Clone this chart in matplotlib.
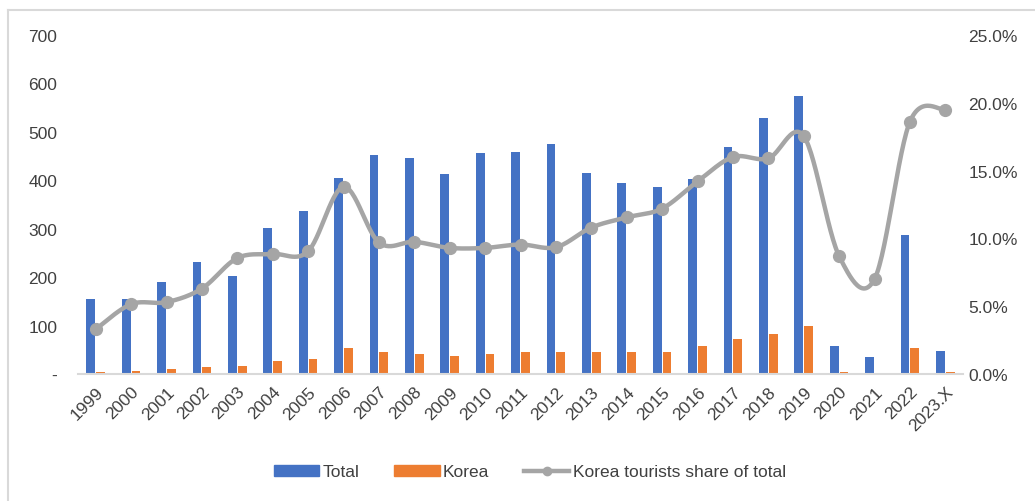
import numpy as np
import matplotlib.pyplot as plt
from matplotlib.lines import Line2D
from matplotlib.patches import Patch

plt.rcParams['font.family'] = ['Liberation Sans', 'DejaVu Sans']

years = ['1999', '2000', '2001', '2002', '2003', '2004', '2005', '2006', '2007',
         '2008', '2009', '2010', '2011', '2012', '2013', '2014', '2015', '2016',
         '2017', '2018', '2019', '2020', '2021', '2022', '2023.X']
total = [155, 155, 190, 231, 203, 301, 337, 404, 452, 445, 412, 456, 459,
         475, 416, 394, 386, 403, 468, 528, 575, 58, 35, 286, 47]
korea = [5, 7, 10, 14, 17, 26, 31, 54, 45, 42, 37, 41, 45, 45, 45, 45, 46,
         57, 73, 82, 100, 4, 0.5, 53, 5]
share = [3.3, 5.15, 5.3, 6.3, 8.55, 8.85, 9.05, 13.8, 9.7, 9.75, 9.3, 9.3, 9.55,
         9.35, 10.8, 11.55, 12.2, 14.2, 16.0, 15.9, 17.55, 8.7, 7.0, 18.6, 19.5]

blue = '#4472C4'
orange = '#ED7D31'
grey = '#A5A5A5'

fig = plt.figure(figsize=(10.35, 5.02), dpi=100)
ax = fig.add_axes([78/1035, 1-375/502, (963-78)/1035, 339/502])
ax2 = ax.twinx()

x = np.arange(len(years))
ax.bar(x - 0.14, total, width=0.25, color=blue, zorder=2)
ax.bar(x + 0.14, korea, width=0.25, color=orange, zorder=2)

# smoothed line like excel (bezier through the points)
s = np.array(share) / 100
xs, ys = [], []
n = len(s)
for i in range(n - 1):
    p0 = np.array([x[max(i-1, 0)], s[max(i-1, 0)]])
    p1 = np.array([x[i], s[i]])
    p2 = np.array([x[i+1], s[i+1]])
    p3 = np.array([x[min(i+2, n-1)], s[min(i+2, n-1)]])
    c1 = p1 + (p2 - p0) / 6
    c2 = p2 - (p3 - p1) / 6
    t = np.linspace(0, 1, 30)[:, None]
    pts = (1-t)**3*p1 + 3*(1-t)**2*t*c1 + 3*(1-t)*t**2*c2 + t**3*p2
    xs.extend(pts[:, 0]); ys.extend(pts[:, 1])
ax2.plot(xs, ys, color=grey, lw=3.2, solid_capstyle='round', zorder=3)
ax2.plot(x, s, 'o', color=grey, ms=8.5, zorder=4)

ax.set_xlim(-0.5, n - 0.5)
ax.set_ylim(0, 700)
ax2.set_ylim(0, 0.25)
ax.set_yticks(range(0, 701, 100))
ax.set_yticklabels(['-'] + [str(v) for v in range(100, 701, 100)])
ax2.set_yticks(np.arange(0, 0.26, 0.05))
ax2.set_yticklabels(['%.1f%%' % (v*100) for v in np.arange(0, 0.26, 0.05)])

ax.set_xticks(x)
ax.set_xticklabels(years, rotation=45, ha='right', rotation_mode='anchor')

for a in (ax, ax2):
    for sp in a.spines.values():
        sp.set_visible(False)
    a.tick_params(length=0, labelsize=12.5, colors='#404040')
ax.spines['bottom'].set_visible(True)
ax.spines['bottom'].set_color('#D9D9D9')
ax.spines['bottom'].set_linewidth(1.5)
ax.tick_params(axis='y', pad=15)
ax.tick_params(axis='x', pad=7)
ax2.tick_params(axis='y', pad=4)

handles = [Patch(color=blue, label='Total'),
           Patch(color=orange, label='Korea'),
           Line2D([], [], color=grey, lw=3.2, marker='o', ms=6,
                  label='Korea tourists share of total')]
fig.legend(handles=handles, loc='center', bbox_to_anchor=(530/1035, 1-473/502),
           ncol=3, frameon=False, fontsize=12.5, handlelength=2.6, handleheight=0.6,
           columnspacing=2.0, handletextpad=0.2, labelcolor='#404040')

# chart frame
fig.add_artist(Line2D([8/1035, 8/1035], [0, 1-11/502], color='#D9D9D9', lw=1.5))
fig.add_artist(Line2D([8/1035, 1], [1-11/502, 1-11/502], color='#D9D9D9', lw=1.5))

fig.savefig('out.png', dpi=100)
